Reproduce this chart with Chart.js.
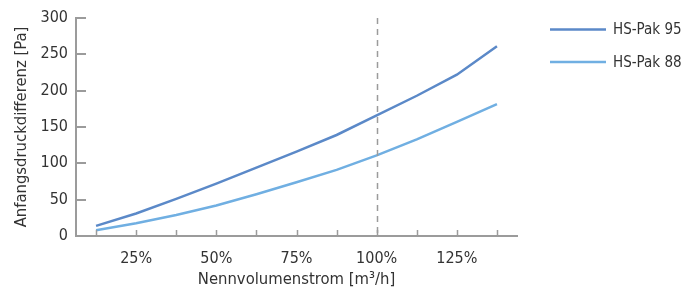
<!DOCTYPE html>
<html>
<head>
<meta charset="utf-8">
<script src="https://cdn.jsdelivr.net/npm/chart.js@4"></script>
<style>
  html, body { margin: 0; padding: 0; background: #fff; }
  #wrap { width: 684px; height: 290px; position: relative; }
</style>
</head>
<body>
<div id="wrap"><canvas id="kennlinie"></canvas></div>
<script>
// Nennvolumenstrom in % (x) und Anfangsdruckdifferenz in Pa (y)
const volumenstrom = [12.5, 25, 37.5, 50, 62.5, 75, 87.5, 100, 112.5, 125, 137.5];
const hsPak95 = [14, 31, 51, 72, 94, 116, 139, 166, 193, 222, 261];
const hsPak88 = [8, 17.5, 29, 42, 57.5, 74, 91, 111, 133, 157, 181.5];
const serien = ['HS-Pak 95', 'HS-Pak 88'];
const xTicks = [12.5, 25, 37.5, 50, 62.5, 75, 87.5, 100, 112.5, 125, 137.5];
const yTicks = [0, 50, 100, 150, 200, 250, 300];
const nennwert = 100;

const schrift = "'Liberation Sans Narrow', 'DejaVu Sans Condensed', 'Roboto', sans-serif";
const farben = ['#5b89c8', '#70afe2'];
const achsGrau = '#9b9b9b';

// Tick-Striche nach innen, gestrichelte 100%-Linie und Legende
const extras = {
    id: 'extras',
    afterDraw(chart) {
        const c = chart.ctx;
        const x = chart.scales.x, y = chart.scales.y;
        const area = chart.chartArea;
        c.save();
        c.strokeStyle = achsGrau;
        c.lineWidth = 1.5;
        xTicks.forEach(v => {
            const px = Math.round(x.getPixelForValue(v)) + 0.5;
            c.beginPath();
            c.moveTo(px, area.bottom);
            c.lineTo(px, area.bottom - 6);
            c.stroke();
        });
        c.lineWidth = 2;
        yTicks.forEach(v => {
            const py = Math.round(y.getPixelForValue(v));
            c.beginPath();
            c.moveTo(area.left, py);
            c.lineTo(area.left + 10, py);
            c.stroke();
        });
        // Nennvolumenstrom 100 %
        const px = Math.round(x.getPixelForValue(nennwert)) + 0.5;
        c.setLineDash([6, 5]);
        c.lineWidth = 1.5;
        c.beginPath();
        c.moveTo(px, area.top);
        c.lineTo(px, area.bottom);
        c.stroke();
        c.setLineDash([]);
        // Legende
        c.font = "15px " + schrift;
        c.textBaseline = 'middle';
        c.fillStyle = '#333';
        serien.forEach((name, i) => {
            const ly = 29.5 + i * 32.5;
            c.strokeStyle = farben[i];
            c.lineWidth = 2.5;
            c.beginPath();
            c.moveTo(550, ly);
            c.lineTo(606, ly);
            c.stroke();
            c.fillText(name, 613, ly + 1);
        });
        c.restore();
    }
};

new Chart(document.getElementById('kennlinie'), {
    type: 'line',
    data: {
        datasets: [
            { label: serien[0], data: volumenstrom.map((v, i) => ({ x: v, y: hsPak95[i] })),
              borderColor: farben[0], borderWidth: 2.5, pointRadius: 0, tension: 0 },
            { label: serien[1], data: volumenstrom.map((v, i) => ({ x: v, y: hsPak88[i] })),
              borderColor: farben[1], borderWidth: 2.5, pointRadius: 0, tension: 0 }
        ]
    },
    options: {
        responsive: true,
        maintainAspectRatio: false,
        animation: false,
        layout: { padding: { top: 18, right: 167, left: 0, bottom: 0 } },
        plugins: { legend: { display: false }, tooltip: { enabled: false } },
        scales: {
            x: {
                type: 'linear',
                min: 6.25,
                max: 143.75,
                afterBuildTicks: s => { s.ticks = xTicks.map(v => ({ value: v })); },
                afterFit: s => { s.height = 54; },
                grid: { display: false, drawTicks: false },
                border: { color: achsGrau, width: 2 },
                ticks: {
                    padding: 13,
                    color: '#333',
                    font: { family: schrift, size: 16 },
                    maxRotation: 0,
                    autoSkip: false,
                    callback: v => (v % 25 === 0 ? v + '%' : '')
                },
                title: {
                    display: true,
                    text: 'Nennvolumenstrom [m³/h]',
                    color: '#333',
                    font: { family: schrift, size: 16.5 },
                    padding: { top: 6, bottom: 0 }
                }
            },
            y: {
                min: 0,
                max: 300,
                afterBuildTicks: s => { s.ticks = yTicks.map(v => ({ value: v })); },
                afterFit: s => { s.width = 76; },
                grid: { display: false, drawTicks: false },
                border: { color: achsGrau, width: 2 },
                ticks: {
                    padding: 8,
                    color: '#333',
                    font: { family: schrift, size: 16 }
                },
                title: {
                    display: true,
                    text: 'Anfangsdruckdifferenz [Pa]',
                    color: '#333',
                    font: { family: schrift, size: 16.5 },
                    padding: { top: 12, bottom: 0 }
                }
            }
        }
    },
    plugins: [extras]
});
</script>
</body>
</html>
